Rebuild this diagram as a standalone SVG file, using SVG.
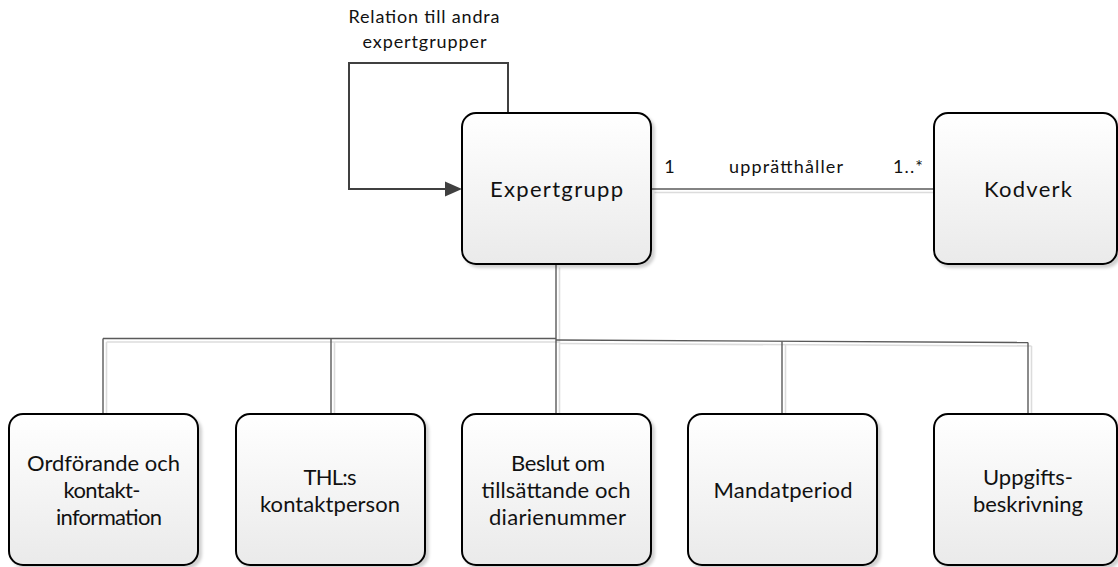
<svg xmlns="http://www.w3.org/2000/svg" width="1118" height="567" viewBox="0 0 1118 567">
  <style>
    .box { stroke: #000; stroke-width: 2; fill: url(#boxFill); filter: url(#shadow); }
    .lbl { font-family: Lato, "Liberation Sans", sans-serif; font-size: 22px; fill: #111; text-anchor: middle; }
    .small { font-family: Lato, "Liberation Sans", sans-serif; font-size: 18px; fill: #111; text-anchor: middle; }
    .wire { fill: none; stroke: #5a5a5a; stroke-width: 1.4; }
    .wire-shade { fill: none; stroke: #dcdcdc; stroke-width: 1.6; }
    .loop { fill: none; stroke: #404040; stroke-width: 2; }
  </style>
  <defs>
    <linearGradient id="boxFill" x1="0" y1="0" x2="0" y2="1">
      <stop offset="0" stop-color="#ffffff"/>
      <stop offset="1" stop-color="#eaeaea"/>
    </linearGradient>
    <filter id="shadow" x="-10%" y="-10%" width="125%" height="125%">
      <feDropShadow dx="3" dy="3" stdDeviation="1.5" flood-color="#000" flood-opacity="0.18"/>
    </filter>
  </defs>

  <!-- connectors -->
  <g id="connectors">
    <!-- soft offset copies under the wires -->
    <g class="wire-shade" transform="translate(3.5,3.5)">
      <path d="M651,189 H934"/>
      <path d="M556,264 V411"/>
      <path d="M103,338.5 H556"/>
      <path d="M556,340 L1028,342.5"/>
      <path d="M103,338.5 V411"/>
      <path d="M331,338.5 V411"/>
      <path d="M782,341.5 V411"/>
      <path d="M1028,342.5 V411"/>
    </g>
    <path class="wire" d="M651,189 H934"/>
    <path class="wire" d="M556,264 V414"/>
    <path class="wire" d="M103,338.5 H556"/>
    <path class="wire" d="M556,340 L1028,342.5"/>
    <path class="wire" d="M103,338.5 V414"/>
    <path class="wire" d="M331,338.5 V414"/>
    <path class="wire" d="M782,341.5 V414"/>
    <path class="wire" d="M1028,342.5 V414"/>
    <!-- self relation -->
    <path class="loop" d="M508,113 V63 H349 V189 H446"/>
    <path d="M445,181.5 L462,189 L445,196.5 Z" fill="#404040"/>
    <text class="small" x="424" y="23" textLength="151" lengthAdjust="spacing">Relation till andra</text>
    <text class="small" x="424.5" y="48" textLength="124" lengthAdjust="spacing">expertgrupper</text>
    <text class="small" x="669.5" y="173">1</text>
    <text class="small" x="786" y="173" textLength="114" lengthAdjust="spacing">upprätthåller</text>
    <text class="small" x="908" y="173" textLength="30" lengthAdjust="spacing">1..*</text>
  </g>

  <g id="expertgrupp">
    <rect class="box" x="462" y="113" width="189" height="151" rx="14"/>
    <text class="lbl" x="556.5" y="197" textLength="133" lengthAdjust="spacing">Expertgrupp</text>
  </g>
  <g id="kodverk">
    <rect class="box" x="934" y="113" width="183" height="151" rx="14"/>
    <text class="lbl" x="1028" y="197" textLength="88" lengthAdjust="spacing">Kodverk</text>
  </g>

  <g id="ordforande">
    <rect class="box" x="9" y="414" width="189" height="151" rx="14"/>
    <text class="lbl" x="103.5" y="471" textLength="153" lengthAdjust="spacing">Ordförande och</text>
    <text class="lbl" x="102" y="498" textLength="77" lengthAdjust="spacing">kontakt-</text>
    <text class="lbl" x="109" y="525" textLength="106" lengthAdjust="spacing">information</text>
  </g>
  <g id="kontaktperson">
    <rect class="box" x="236" y="414" width="189" height="151" rx="14"/>
    <text class="lbl" x="330" y="484.5" textLength="53" lengthAdjust="spacing">THL:s</text>
    <text class="lbl" x="330" y="511.5" textLength="140" lengthAdjust="spacing">kontaktperson</text>
  </g>
  <g id="beslut">
    <rect class="box" x="462" y="414" width="189" height="151" rx="14"/>
    <text class="lbl" x="558" y="471" textLength="94" lengthAdjust="spacing">Beslut om</text>
    <text class="lbl" x="556" y="498" textLength="149" lengthAdjust="spacing">tillsättande och</text>
    <text class="lbl" x="557.5" y="525" textLength="137" lengthAdjust="spacing">diarienummer</text>
  </g>
  <g id="mandatperiod">
    <rect class="box" x="688" y="414" width="189" height="151" rx="14"/>
    <text class="lbl" x="783" y="498" textLength="139" lengthAdjust="spacing">Mandatperiod</text>
  </g>
  <g id="uppgift">
    <rect class="box" x="934" y="414" width="183" height="151" rx="14"/>
    <text class="lbl" x="1028" y="484.5" textLength="90" lengthAdjust="spacing">Uppgifts-</text>
    <text class="lbl" x="1028" y="511.5" textLength="110" lengthAdjust="spacing">beskrivning</text>
  </g>
</svg>
